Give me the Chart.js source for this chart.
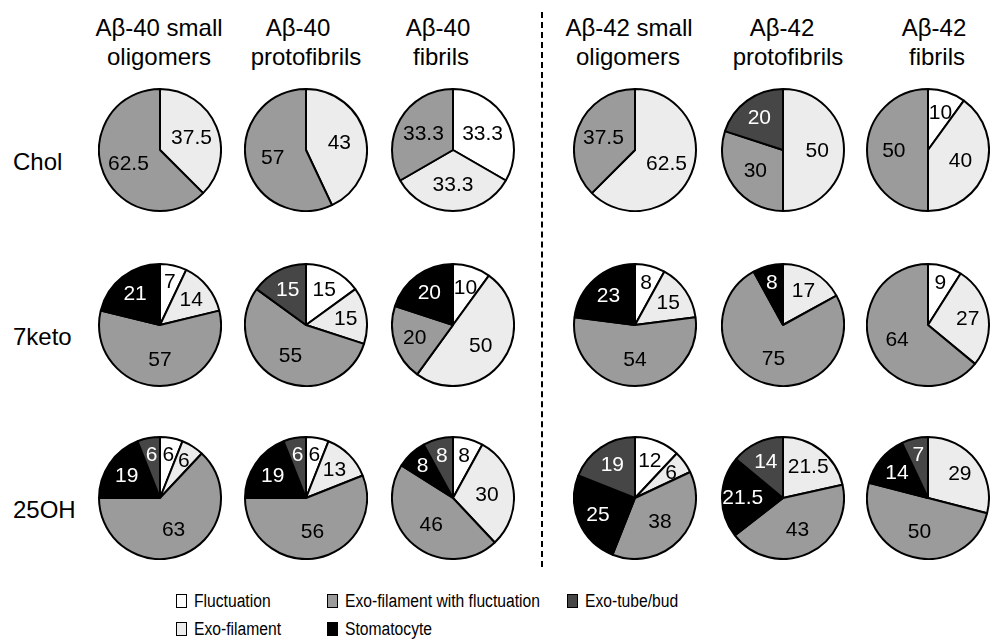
<!DOCTYPE html>
<html>
<head>
<meta charset="utf-8">
<script src="https://cdn.jsdelivr.net/npm/chart.js@4.4.1/dist/chart.umd.min.js"></script>
<style>
  body { margin: 0; background: #fff; }
  #stage { position: relative; width: 990px; height: 639px; overflow: hidden; font-family: "Liberation Sans", Arial, sans-serif; color: #000; }
  .pie { position: absolute; }
  .hdr { position: absolute; font-size: 24px; white-space: nowrap; transform: translate(-50%, -50%); line-height: 1; }
  .rowlbl { position: absolute; left: 13px; font-size: 24px; transform: translateY(-50%); line-height: 1; }
  .leg { position: absolute; font-size: 18px; white-space: nowrap; transform: translateY(-50%); line-height: 1; display: flex; align-items: center; }
  .leg i { display: inline-block; width: 11px; height: 14px; border: 1px solid #000; margin-right: 7px; box-sizing: border-box; }
  .leg span { display: inline-block; transform: scaleX(0.87); transform-origin: left center; }
  #divider { position: absolute; left: 541px; top: 12px; height: 555px; width: 0; border-left: 2px dashed #000; }
</style>
</head>
<body>
<div id="stage">
  <div id="divider"></div>
</div>
<script>
// categories, in clockwise order from 12 o'clock
const categories = ["Fluctuation", "Exo-filament", "Exo-filament with fluctuation", "Stomatocyte", "Exo-tube/bud"];
const sliceColors = ["#ffffff", "#ececec", "#9b9b9b", "#000000", "#464646"];

const columns = [
  ["A\u03b2-40 small", "oligomers"],
  ["A\u03b2-40", "protofibrils"],
  ["A\u03b2-40", "fibrils"],
  ["A\u03b2-42 small", "oligomers"],
  ["A\u03b2-42", "protofibrils"],
  ["A\u03b2-42", "fibrils"]
];
const rows = ["Chol", "7keto", "25OH"];

// % per category for each column (order of categories above)
const cholValues = [
  [0, 37.5, 62.5, 0, 0],
  [0, 43, 57, 0, 0],
  [33.3, 33.3, 33.3, 0, 0],
  [0, 62.5, 37.5, 0, 0],
  [0, 50, 30, 0, 20],
  [10, 40, 50, 0, 0]
];
const ketoValues = [
  [7, 14, 57, 21, 0],
  [15, 15, 55, 0, 15],
  [10, 50, 20, 20, 0],
  [8, 15, 54, 23, 0],
  [0, 17, 75, 8, 0],
  [9, 27, 64, 0, 0]
];
const ohValues = [
  [6, 6, 63, 19, 6],
  [6, 13, 56, 19, 6],
  [8, 30, 46, 8, 8],
  [12, 6, 38, 25, 19],
  [0, 21.5, 43, 21.5, 14],
  [0, 29, 50, 14, 7]
];
const allValues = [cholValues, ketoValues, ohValues];

// layout
const colX = [160, 306, 453, 635, 783, 928];
const rowY = [150, 325, 498];
const hdrX = [[159, 159], [298, 306], [438, 441], [629, 628], [782, 788], [934, 937]];
const hdrY = [28, 57];
const pieSize = 124;

const stage = document.getElementById("stage");

columns.forEach((lines, c) => {
  lines.forEach((txt, l) => {
    const d = document.createElement("div");
    d.className = "hdr";
    d.style.left = hdrX[c][l] + "px";
    d.style.top = hdrY[l] + "px";
    d.textContent = txt;
    stage.appendChild(d);
  });
});

rows.forEach((name, r) => {
  const d = document.createElement("div");
  d.className = "rowlbl";
  d.style.top = (rowY[r] + 12) + "px";
  d.textContent = name;
  stage.appendChild(d);
});

// legend: two rows, filled column by column
const legX = [176, 327, 567];
const legY = [601, 629];
categories.forEach((name, i) => {
  const d = document.createElement("div");
  d.className = "leg";
  d.style.left = legX[Math.floor(i / 2)] + "px";
  d.style.top = legY[i % 2] + "px";
  d.innerHTML = `<i style="background:${sliceColors[i]}"></i><span>${name}</span>`;
  stage.appendChild(d);
});

const sliceLabels = {
  id: "sliceLabels",
  afterDatasetsDraw(chart) {
    const ctx = chart.ctx;
    const meta = chart.getDatasetMeta(0);
    const data = chart.data.datasets[0].data;
    ctx.save();
    ctx.font = '21px "Liberation Sans", Arial, sans-serif';
    ctx.textAlign = "center";
    ctx.textBaseline = "middle";
    meta.data.forEach((arc, i) => {
      const v = data[i];
      if (!v) return;
      const { x, y, startAngle, endAngle, outerRadius } = arc.getProps(["x", "y", "startAngle", "endAngle", "outerRadius"], true);
      const mid = (startAngle + endAngle) / 2;
      const f = v >= 30 ? 0.56 : v >= 10 ? 0.66 : 0.73;
      ctx.fillStyle = i >= 3 ? "#fff" : "#000";
      ctx.fillText(String(v), x + Math.cos(mid) * outerRadius * f, y + Math.sin(mid) * outerRadius * f + 1);
    });
    ctx.restore();
  }
};

allValues.forEach((rowVals, r) => {
  rowVals.forEach((vals, c) => {
    const cv = document.createElement("canvas");
    cv.className = "pie";
    cv.width = pieSize;
    cv.height = pieSize;
    cv.style.left = (colX[c] - pieSize / 2) + "px";
    cv.style.top = (rowY[r] - pieSize / 2) + "px";
    stage.appendChild(cv);
    new Chart(cv, {
      type: "pie",
      data: {
        labels: categories,
        datasets: [{
          data: vals.map(v => (v ? v : null)),
          backgroundColor: sliceColors,
          borderColor: "#000",
          borderWidth: 2
        }]
      },
      options: {
        responsive: false,
        animation: false,
        layout: { padding: 0 },
        plugins: { legend: { display: false }, tooltip: { enabled: false } }
      },
      plugins: [sliceLabels]
    });
  });
});
</script>
</body>
</html>
